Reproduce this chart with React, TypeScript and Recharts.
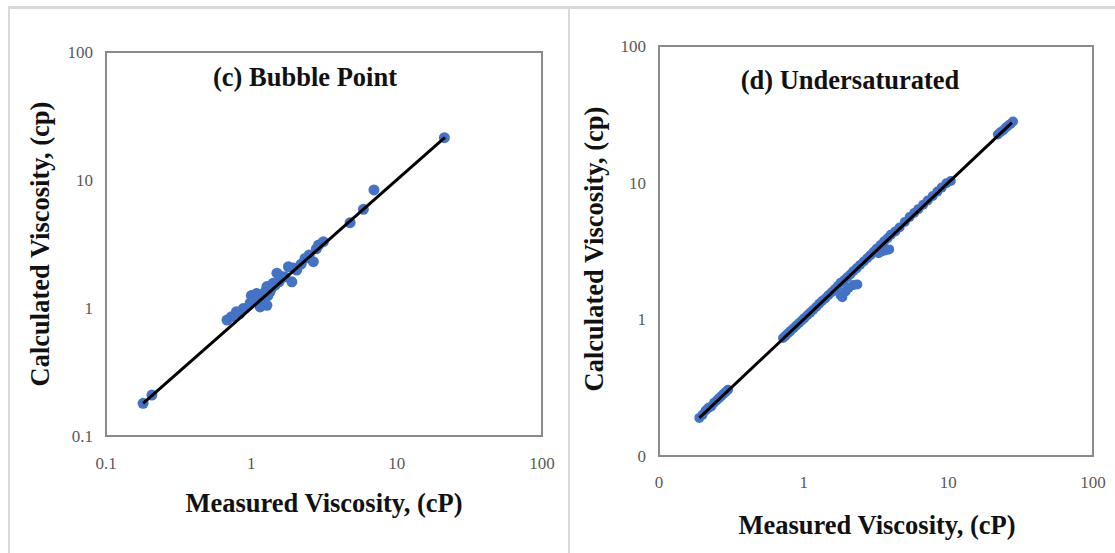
import React from "react";
import { ScatterChart, Scatter, XAxis, YAxis, ReferenceArea } from "recharts";

// ---------- Data ----------
const axisTicks = [0.1, 1, 10, 100];

const bubbleMeasured = [0.18, 0.207, 0.68, 0.73, 0.79, 0.83, 0.88, 0.98, 1.0, 1.03, 1.09, 1.1, 1.12, 1.15, 1.21, 1.25, 1.28, 1.28, 1.3, 1.35, 1.41, 1.45, 1.5, 1.55, 1.62, 1.7, 1.8, 1.9, 1.95, 2.05, 2.2, 2.34, 2.5, 2.67, 2.8, 2.9, 3.13, 4.78, 5.9, 6.98, 21.3];
const bubbleCalculated = [0.18, 0.209, 0.805, 0.855, 0.935, 0.9, 0.99, 1.09, 1.25, 1.15, 1.3, 1.2, 1.1, 1.02, 1.155, 1.35, 1.47, 1.05, 1.25, 1.35, 1.56, 1.5, 1.87, 1.6, 1.76, 1.75, 2.1, 1.6, 2.05, 1.98, 2.2, 2.44, 2.6, 2.3, 2.9, 3.1, 3.3, 4.64, 5.9, 8.36, 21.4];
const bubbleLine = [0.18, 21.5];

const underMeasured = [
  0.19, 0.2, 0.21, 0.22, 0.23, 0.24, 0.25, 0.26, 0.27, 0.28, 0.29, 0.3,
  0.72, 0.75, 0.78, 0.81, 0.85, 0.89, 0.93, 0.97, 1.01, 1.06, 1.11, 1.16, 1.22, 1.28, 1.34, 1.41, 1.48, 1.56, 1.64, 1.72,
  1.8, 1.9, 2.0, 2.1, 2.2, 2.32, 2.45, 2.6, 2.75, 2.9, 3.05, 3.2, 3.4, 3.6, 3.8, 4.0, 4.3, 4.6, 5.0, 5.4,
  5.8, 6.2, 6.7, 7.2, 7.8, 8.4, 9.0, 9.7, 10.4,
  22, 23, 24, 25, 26, 27, 28,
  1.8, 1.85, 1.95, 2.05, 2.2, 2.35, 3.3, 3.5, 3.7, 3.9,
];
const underCalculated = [
  0.19, 0.2, 0.215, 0.225, 0.23, 0.245, 0.255, 0.265, 0.275, 0.285, 0.295, 0.305,
  0.73, 0.76, 0.79, 0.82, 0.86, 0.9, 0.94, 0.98, 1.02, 1.07, 1.12, 1.17, 1.23, 1.3, 1.36, 1.42, 1.5, 1.58, 1.66, 1.75,
  1.85, 1.93, 2.03, 2.13, 2.25, 2.36, 2.5, 2.65, 2.8, 2.95, 3.12, 3.3, 3.5, 3.72, 3.92, 4.15, 4.4, 4.7, 5.15, 5.6,
  6.0, 6.4, 6.9, 7.4, 8.0, 8.6, 9.2, 9.9, 10.3,
  22.5, 23.5, 24.2, 25.3, 26.2, 27, 28,
  1.5, 1.45, 1.6, 1.7, 1.78, 1.8, 3.05, 3.15, 3.2, 3.25,
];
const underLine = [0.19, 27.5];

// ---------- Styles ----------
const SERIF = '"Liberation Serif", "Times New Roman", serif';
const BLUE = "#4472C4";
const TICK_STYLE = { fontSize: 17, fill: "#595959", fontFamily: SERIF };

const zip = (xs: number[], ys: number[]) => xs.map((x, i) => ({ x, y: ys[i] }));
const lineData = (v: number[]) => v.map((x) => ({ x, y: x }));

const Dot = (r: number) => (p: any) => <circle cx={p.cx} cy={p.cy} r={r} fill={BLUE} />;
const NoDot = () => <g />;

function Panel(props: {
  data: { x: number; y: number }[];
  line: { x: number; y: number }[];
  width: number;
  margin: any;
  r: number;
  fmt: (v: number) => string;
  xTickMargin: number;
}) {
  const { data, line, width, margin, r, fmt, xTickMargin } = props;
  return (
    <ScatterChart width={width} height={553} margin={margin}>
      <XAxis
        dataKey="x"
        type="number"
        scale="log"
        domain={[0.1, 100]}
        ticks={axisTicks}
        allowDataOverflow
        axisLine={false}
        tickLine={false}
        tickSize={0}
        tickMargin={xTickMargin}
        height={30}
        tick={TICK_STYLE}
        tickFormatter={fmt}
        interval={0}
      />
      <YAxis
        dataKey="y"
        type="number"
        scale="log"
        domain={[0.1, 100]}
        ticks={axisTicks}
        allowDataOverflow
        axisLine={false}
        tickLine={false}
        tickSize={0}
        tickMargin={13}
        width={60}
        tick={TICK_STYLE}
        tickFormatter={fmt}
        interval={0}
      />
      <ReferenceArea x1={0.1} x2={100} y1={0.1} y2={100} fill="none" fillOpacity={0} stroke="#8a8a8a" strokeWidth={2} />
      <Scatter data={data} shape={Dot(r)} isAnimationActive={false} />
      <Scatter data={line} shape={NoDot} line={{ stroke: "#000", strokeWidth: 3 }} isAnimationActive={false} />
    </ScatterChart>
  );
}

export default function App() {
  const labelStyle: React.CSSProperties = { fontFamily: SERIF, fontWeight: "bold", fontSize: 26.5, fill: "#111" };
  return (
    <div style={{ position: "absolute", left: 0, top: 0, width: 1115, height: 553, background: "#fff", overflow: "hidden" }}>
      <div style={{ position: "absolute", left: 8, top: 6, width: 1107, height: 547, borderTop: "3px solid #d9d9d9", borderLeft: "2px solid #d9d9d9", boxSizing: "border-box" }} />
      <div style={{ position: "absolute", left: 568, top: 7, width: 2, height: 546, background: "#d9d9d9" }} />
      <div style={{ position: "absolute", left: 0, top: 0 }}>
        <Panel
          data={zip(bubbleMeasured, bubbleCalculated)}
          line={lineData(bubbleLine)}
          width={570}
          margin={{ top: 52, right: 28, bottom: 87, left: 46 }}
          r={5.5}
          fmt={(v) => String(v)}
          xTickMargin={21}
        />
      </div>
      <div style={{ position: "absolute", left: 570, top: 0 }}>
        <Panel
          data={zip(underMeasured, underCalculated)}
          line={lineData(underLine)}
          width={545}
          margin={{ top: 46, right: 22, bottom: 67, left: 29 }}
          r={5}
          fmt={(v) => String(Math.round(v))}
          xTickMargin={20}
        />
      </div>
      <svg width={1115} height={553} style={{ position: "absolute", left: 0, top: 0, pointerEvents: "none" }}>
        <text x={305} y={77} textAnchor="middle" dominantBaseline="central" style={labelStyle}>(c) Bubble Point</text>
        <text x={850} y={80} textAnchor="middle" dominantBaseline="central" style={labelStyle}>(d) Undersaturated</text>
        <text x={324} y={503} textAnchor="middle" dominantBaseline="central" style={labelStyle}>Measured Viscosity, (cP)</text>
        <text x={877} y={525} textAnchor="middle" dominantBaseline="central" style={labelStyle}>Measured Viscosity, (cP)</text>
        <text x={40} y={244} textAnchor="middle" dominantBaseline="central" transform="rotate(-90 40 244)" style={labelStyle}>Calculated Viscosity, (cp)</text>
        <text x={594} y={249} textAnchor="middle" dominantBaseline="central" transform="rotate(-90 594 249)" style={labelStyle}>Calculated Viscosity, (cp)</text>
      </svg>
    </div>
  );
}
